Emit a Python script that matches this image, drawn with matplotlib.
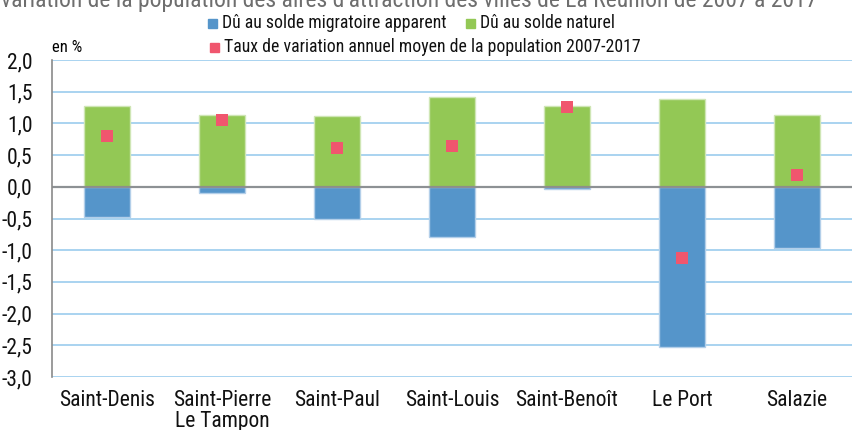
import matplotlib
matplotlib.use('Agg')
import numpy as np
from matplotlib import pyplot as plt
from matplotlib.patches import Rectangle

plt.rcParams['font.family'] = ['Roboto Condensed', 'Archivo Narrow', 'Liberation Sans', 'DejaVu Sans']

# data (in %)
villes = ['Saint-Denis', 'Saint-Pierre\nLe Tampon', 'Saint-Paul', 'Saint-Louis',
          'Saint-Benoît', 'Le Port', 'Salazie']
solde_naturel = [1.28, 1.14, 1.11, 1.42, 1.28, 1.39, 1.14]
solde_migratoire = [-0.48, -0.09, -0.51, -0.79, -0.03, -2.52, -0.96]
taux_variation = [0.80, 1.06, 0.61, 0.64, 1.26, -1.13, 0.18]
yticks = [2.0, 1.5, 1.0, 0.5, 0.0, -0.5, -1.0, -1.5, -2.0, -2.5, -3.0]

titre = "Taux de variation de la population des aires d'attraction des villes de La Réunion de 2007 à 2017"
lab_migr = 'Dû au solde migratoire apparent'
lab_nat = 'Dû au solde naturel'
lab_taux = 'Taux de variation annuel moyen de la population 2007-2017'

c_blue = '#5595ca'
c_green = '#93c855'
c_pink = '#f0566e'
c_grid = '#a9d3f0'

W, H = 852, 430
fig = plt.figure(figsize=(W / 100, H / 100), dpi=100)


def fx(px):
    return px / W


def fy(py):
    return 1 - py / H


ax = fig.add_axes([fx(52), fy(377), fx(800), 317 / H])
x = np.arange(len(villes))

for t in yticks:
    ax.axhline(t, color=c_grid, lw=1.4, zorder=0)

ax.bar(x, solde_naturel, width=0.4, color=c_green, edgecolor='#cfe6b5', lw=1, zorder=2)
ax.bar(x, solde_migratoire, width=0.4, color=c_blue, edgecolor='#b3cfe9', lw=1, zorder=2)
ax.axhline(0, color='#8a8a8a', lw=1.6, alpha=0.9, zorder=3)
ax.plot(x, taux_variation, 's', color=c_pink, ms=8.5, mew=0, ls='none', zorder=4)

ax.set_xlim(-0.48, 6.48)
ax.set_ylim(-3.0, 2.0)
ax.set_yticks(yticks)
ax.set_yticklabels(['{:.1f}'.format(t).replace('.', ',') for t in yticks])
ax.set_xticks(x)
ax.set_xticklabels(villes, linespacing=1.05)
ax.tick_params(axis='both', length=0, labelsize=15.5, colors='#111111')
ax.tick_params(axis='y', pad=14)
ax.tick_params(axis='x', pad=9)
for s in ['top', 'right', 'bottom']:
    ax.spines[s].set_visible(False)
ax.spines['left'].set_color('#8a8a8a')
ax.spines['left'].set_linewidth(1.2)

# title (partly out of frame, as in the reference)
fig.text(fx(817), fy(6.5), titre, ha='right', va='baseline', fontsize=17, color='#6e6e6e')

# hand-placed legend
leg = [(208, 23, c_blue, lab_migr), (466, 23, c_green, lab_nat), (210, 47, c_pink, lab_taux)]
for lx, ly, col, lab in leg:
    fig.add_artist(Rectangle((fx(lx), fy(ly + 4.5)), fx(9), 9 / H, color=col,
                             transform=fig.transFigure))
    fig.text(fx(lx + 14), fy(ly), lab, ha='left', va='center', fontsize=12.8, color='#111111')

fig.text(fx(52), fy(47), 'en %', ha='left', va='center', fontsize=12)

fig.savefig('out.png', dpi=100)
